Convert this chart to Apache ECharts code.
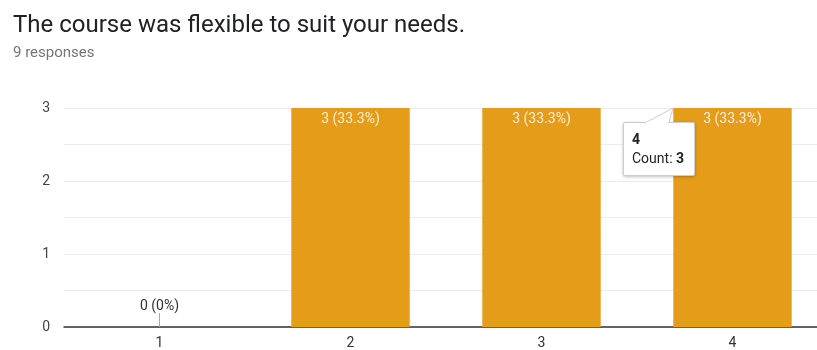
<!DOCTYPE html>
<html>
<head>
<meta charset="utf-8">
<script src="https://cdn.jsdelivr.net/npm/echarts@6/dist/echarts.min.js"></script>
<style>
  html, body { margin: 0; padding: 0; background: #fff; }
  #main { width: 817px; height: 350px; }
</style>
</head>
<body>
<div id="main"></div>
<script>
var categories = ['1', '2', '3', '4'];
var counts = [0, 3, 3, 3];
var total = 9;

var myChart = echarts.init(document.getElementById('main'));

function pct(v) {
    var p = Math.round(v / total * 1000) / 10;
    return v + ' (' + p + '%)';
}

// zero bar: label above the axis, dark text
var data = counts.map(function (v) {
    if (v === 0) {
        return {
            value: v,
            label: { position: 'top', distance: 0, color: '#333' }
        };
    }
    return v;
});

var arrow = '<svg width="32" height="17" style="position:absolute;left:20px;top:-16px;overflow:visible">' +
    '<polygon points="1,16 29,1 25,16" fill="#fff" stroke="#ccc" stroke-width="1"/>' +
    '<rect x="2" y="15" width="22" height="3" fill="#fff"/></svg>';

var option = {
    animation: false,
    title: {
        text: 'The course was flexible to suit your needs.',
        subtext: '9 responses',
        left: 8,
        top: 9,
        itemGap: 8,
        textStyle: {
            fontFamily: 'Roboto',
            fontWeight: 'normal',
            fontSize: 24,
            color: '#202124'
        },
        subtextStyle: {
            fontFamily: 'Roboto',
            fontSize: 15,
            color: '#757575'
        }
    },
    tooltip: {
        trigger: 'item',
        alwaysShowContent: true,
        position: function () { return [623, 122]; },
        backgroundColor: '#fff',
        borderColor: '#ccc',
        borderWidth: 1,
        padding: [7, 8],
        extraCssText: 'border-radius:2px;box-shadow:0 1px 3px rgba(0,0,0,0.25);overflow:visible;',
        textStyle: { fontFamily: 'Roboto', fontSize: 14, color: '#222' },
        formatter: function (p) {
            return arrow + '<div style="line-height:19px;padding-right:2px"><b>' + p.name +
                '</b><br/>Count: <b>' + p.value + '</b></div>';
        }
    },
    grid: {
        left: 64,
        top: 108,
        width: 764,
        height: 219,
        outerBoundsMode: 'none'
    },
    xAxis: {
        type: 'category',
        data: categories,
        axisTick: { show: false },
        axisLine: { lineStyle: { color: '#333', width: 1.5 } },
        axisLabel: { color: '#333', fontSize: 14, fontFamily: 'Roboto', margin: 9 }
    },
    yAxis: {
        type: 'value',
        min: 0,
        max: 3,
        interval: 0.5,
        axisLabel: {
            color: '#444',
            fontSize: 14,
            fontFamily: 'Roboto',
            margin: 14,
            formatter: function (v) { return v % 1 === 0 ? String(v) : ''; }
        },
        splitLine: { lineStyle: { color: '#ececec' } }
    },
    series: [
        {
            type: 'bar',
            data: data,
            barCategoryGap: '38%',
            itemStyle: { color: '#E49C19' },
            label: {
                show: true,
                position: 'insideTop',
                distance: 4,
                color: '#fbeed5',
                fontSize: 14,
                fontFamily: 'Roboto',
                formatter: function (p) { return pct(p.value); }
            },
            labelLayout: function (params) {
                if (counts[params.dataIndex] === 0) {
                    return { dy: -14 };
                }
            },
            labelLine: {
                show: true,
                lineStyle: { color: '#aaa', width: 1 }
            }
        }
    ]
};

myChart.setOption(option);
myChart.dispatchAction({ type: 'showTip', seriesIndex: 0, dataIndex: 3 });
</script>
</body>
</html>
